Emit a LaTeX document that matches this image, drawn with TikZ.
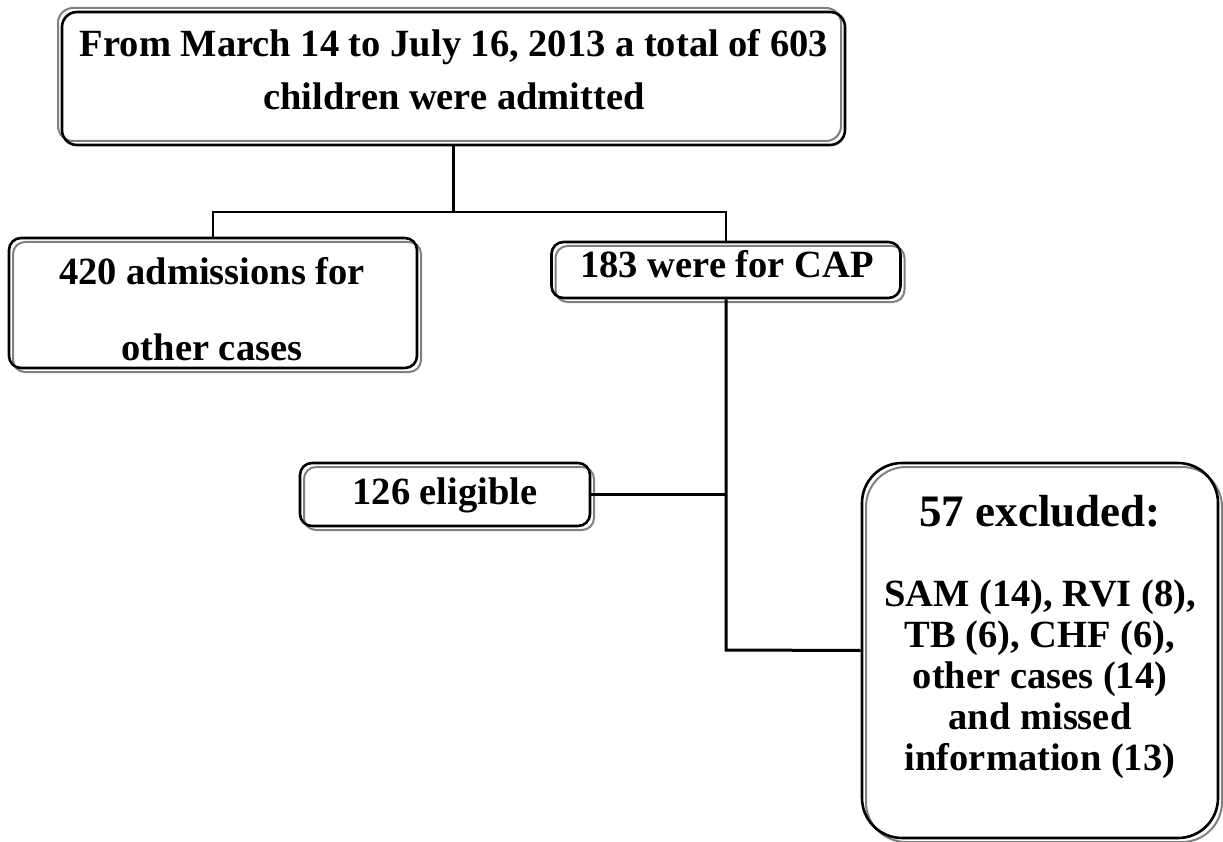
\documentclass[tikz,border=0pt]{standalone}
\usepackage{fontspec}
\setmainfont{Liberation Serif}
\begin{document}
\begin{tikzpicture}[x=1pt,y=1pt,
  boxdr/.style={draw=black, line width=2.6pt, rounded corners=12pt, inner sep=0pt,
    preaction={draw=black!50, line width=2pt, transform canvas={shift={(4pt,-4pt)}}}},
  boxul/.style={draw=black, line width=2.6pt, rounded corners=15pt, inner sep=0pt,
    preaction={draw=black!50, line width=2pt, transform canvas={shift={(-4pt,4pt)}}}},
  txt/.style={font=\fontsize{38.5}{40}\selectfont\bfseries, anchor=base, inner sep=0pt},
  hdr/.style={font=\fontsize{45}{48}\selectfont\bfseries, anchor=base, inner sep=0pt},
  conn/.style={draw=black, line width=2.2pt},
  connb/.style={draw=black, line width=3pt}]
\useasboundingbox (0,0) rectangle (1223,-842);
% boxes
\node[boxul, minimum width=783pt, minimum height=133pt] (top) at (453.5,-78.5) {};
\node[boxdr, minimum width=408pt, minimum height=130pt] (left) at (213,-303) {};
\node[boxdr, minimum width=349pt, minimum height=56pt] (cap) at (726,-270) {};
\node[boxdr, minimum width=290pt, minimum height=63pt] (elig) at (445,-494.5) {};
\node[boxdr, rounded corners=40pt, minimum width=356pt, minimum height=375pt] (excl) at (1040,-650.5) {};
% texts
\node[txt] (t1) at (454,-57) {From March 14 to July 16, 2013 a total of 603};
\node[txt] (t2) at (454,-110) {children were admitted};
\node[txt] (l1) at (212,-284) {420 admissions for};
\node[txt] (l2) at (212,-360) {other cases};
\node[txt] (c1) at (727,-278) {183 were for CAP};
\node[txt] (e1) at (445,-504) {126 eligible};
\node[hdr] (x0) at (1040,-526) {57 excluded:};
\node[txt] (x1) at (1040,-606) {SAM (14), RVI (8),};
\node[txt] (x2) at (1040,-647) {TB (6), CHF (6),};
\node[txt] (x3) at (1040,-688) {other cases (14)};
\node[txt] (x4) at (1040,-729) {and missed};
\node[txt] (x5) at (1040,-770) {information (13)};
% connector points
\coordinate (split) at (453.5,-212);
\coordinate (turn) at (726,-650);
\coordinate (meet) at (726,-494.5);
% connectors
\draw[conn] (top.south) -- (split);
\draw[conn] (left.north) |- (split) -| (cap.north);
\draw[connb] (cap.south) -- (turn) -- (excl.west);
\draw[conn] (elig.east) -- (meet);
\end{tikzpicture}
\end{document}
